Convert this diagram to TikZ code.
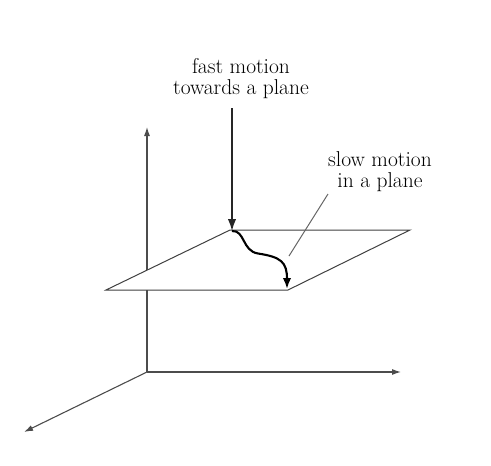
\documentclass[tikz,border=0pt]{standalone}
\usetikzlibrary{arrows.meta}
\begin{document}
\begin{tikzpicture}[x=1pt,y=-1pt,
  axis/.style={draw=black!70,line width=1.1pt,-{Latex[length=9pt,width=6pt]}},
  planeedge/.style={draw=black!75,line width=1pt,fill=white},
  fastarrow/.style={draw=black!85,line width=1.7pt,-{Latex[length=12pt,width=8.5pt]}},
  slowarrow/.style={draw=black,line width=2.1pt,-{Latex[length=11pt,width=8.5pt]}},
  leader/.style={draw=black!60,line width=1pt},
  lbl/.style={font=\fontsize{21.5}{21}\selectfont,align=center,inner sep=0pt}]
\useasboundingbox (0,0) rectangle (491,466);
\coordinate (O) at (147,372);
\coordinate (Zt) at (147,127);
\coordinate (Xt) at (401,372);
\coordinate (Yt) at (24,432);
\coordinate (BL) at (230,230);
\coordinate (BR) at (410,230);
\coordinate (FR) at (288,290);
\coordinate (FL) at (106,290);
\coordinate (Ftop) at (232,108);
\coordinate (Fend) at (232,231);
\coordinate (Send) at (287,289);
\coordinate (Lbot) at (289,256);
\coordinate (Ltop) at (328,194);
\draw[axis] (O) -- (Zt);
\draw[axis] (O) -- (Xt);
\draw[axis] (O) -- (Yt);
\draw[planeedge] (BL) -- (BR) -- (FR) -- (FL) -- cycle;
\draw[leader] (Lbot) -- (Ltop);
\draw[fastarrow] (Ftop) -- (Fend);
\draw[slowarrow] (Fend) .. controls (245,230) and (242,251) .. (258,253.5)
  .. controls (281,257) and (287,262) .. (Send);
\node[lbl] (fast) at (241,79) {fast motion\\towards a plane};
\node[lbl] (slow) at (380,172) {slow motion\\in a plane};
\end{tikzpicture}
\end{document}
